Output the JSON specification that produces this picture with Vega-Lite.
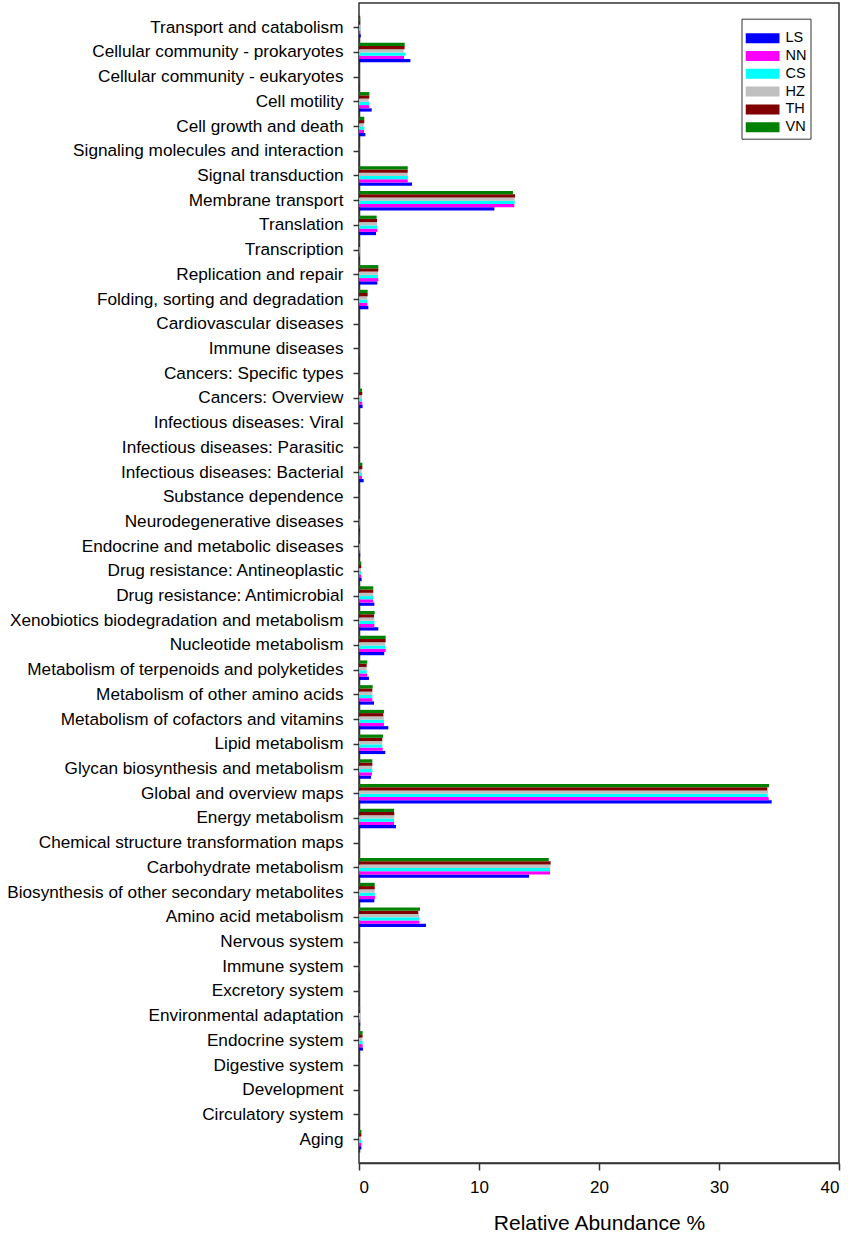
{
  "$schema": "https://vega.github.io/schema/vega-lite/v6.json",
  "autosize": {"type": "none"},
  "padding": {"left": 359, "top": 3, "right": 12, "bottom": 72},
  "width": 480,
  "height": 1160,
  "background": "white",
  "config": {
    "font": "Liberation Sans",
    "view": {"stroke": "#333", "strokeWidth": 1.5},
    "axis": {
      "grid": false,
      "domainColor": "#333",
      "domainWidth": 1.5,
      "tickColor": "#333",
      "tickWidth": 1.5,
      "labelColor": "#000",
      "titleColor": "#000",
      "labelFont": "Liberation Sans",
      "titleFont": "Liberation Sans",
      "titleFontWeight": "normal"
    }
  },
  "data": {
    "values": [
      {"c": "Transport and catabolism", "g": "LS", "v": 0.15}, {"c": "Transport and catabolism", "g": "NN", "v": 0.1}, {"c": "Transport and catabolism", "g": "CS", "v": 0.1}, {"c": "Transport and catabolism", "g": "HZ", "v": 0.08}, {"c": "Transport and catabolism", "g": "TH", "v": 0.1}, {"c": "Transport and catabolism", "g": "VN", "v": 0.1},
      {"c": "Cellular community - prokaryotes", "g": "LS", "v": 4.28}, {"c": "Cellular community - prokaryotes", "g": "NN", "v": 3.75}, {"c": "Cellular community - prokaryotes", "g": "CS", "v": 3.86}, {"c": "Cellular community - prokaryotes", "g": "HZ", "v": 3.72}, {"c": "Cellular community - prokaryotes", "g": "TH", "v": 3.8}, {"c": "Cellular community - prokaryotes", "g": "VN", "v": 3.81},
      {"c": "Cellular community - eukaryotes", "g": "LS", "v": 0.01}, {"c": "Cellular community - eukaryotes", "g": "NN", "v": 0.01}, {"c": "Cellular community - eukaryotes", "g": "CS", "v": 0.01}, {"c": "Cellular community - eukaryotes", "g": "HZ", "v": 0.01}, {"c": "Cellular community - eukaryotes", "g": "TH", "v": 0.01}, {"c": "Cellular community - eukaryotes", "g": "VN", "v": 0.01},
      {"c": "Cell motility", "g": "LS", "v": 1.06}, {"c": "Cell motility", "g": "NN", "v": 0.83}, {"c": "Cell motility", "g": "CS", "v": 0.86}, {"c": "Cell motility", "g": "HZ", "v": 0.8}, {"c": "Cell motility", "g": "TH", "v": 0.86}, {"c": "Cell motility", "g": "VN", "v": 0.86},
      {"c": "Cell growth and death", "g": "LS", "v": 0.53}, {"c": "Cell growth and death", "g": "NN", "v": 0.42}, {"c": "Cell growth and death", "g": "CS", "v": 0.44}, {"c": "Cell growth and death", "g": "HZ", "v": 0.39}, {"c": "Cell growth and death", "g": "TH", "v": 0.44}, {"c": "Cell growth and death", "g": "VN", "v": 0.44},
      {"c": "Signaling molecules and interaction", "g": "LS", "v": 0.01}, {"c": "Signaling molecules and interaction", "g": "NN", "v": 0.01}, {"c": "Signaling molecules and interaction", "g": "CS", "v": 0.01}, {"c": "Signaling molecules and interaction", "g": "HZ", "v": 0.01}, {"c": "Signaling molecules and interaction", "g": "TH", "v": 0.01}, {"c": "Signaling molecules and interaction", "g": "VN", "v": 0.01},
      {"c": "Signal transduction", "g": "LS", "v": 4.42}, {"c": "Signal transduction", "g": "NN", "v": 4.06}, {"c": "Signal transduction", "g": "CS", "v": 4.08}, {"c": "Signal transduction", "g": "HZ", "v": 4.06}, {"c": "Signal transduction", "g": "TH", "v": 4.06}, {"c": "Signal transduction", "g": "VN", "v": 4.06},
      {"c": "Membrane transport", "g": "LS", "v": 11.28}, {"c": "Membrane transport", "g": "NN", "v": 12.94}, {"c": "Membrane transport", "g": "CS", "v": 12.97}, {"c": "Membrane transport", "g": "HZ", "v": 12.97}, {"c": "Membrane transport", "g": "TH", "v": 13.0}, {"c": "Membrane transport", "g": "VN", "v": 12.83},
      {"c": "Translation", "g": "LS", "v": 1.42}, {"c": "Translation", "g": "NN", "v": 1.53}, {"c": "Translation", "g": "CS", "v": 1.5}, {"c": "Translation", "g": "HZ", "v": 1.5}, {"c": "Translation", "g": "TH", "v": 1.5}, {"c": "Translation", "g": "VN", "v": 1.47},
      {"c": "Transcription", "g": "LS", "v": 0.06}, {"c": "Transcription", "g": "NN", "v": 0.06}, {"c": "Transcription", "g": "CS", "v": 0.06}, {"c": "Transcription", "g": "HZ", "v": 0.06}, {"c": "Transcription", "g": "TH", "v": 0.08}, {"c": "Transcription", "g": "VN", "v": 0.06},
      {"c": "Replication and repair", "g": "LS", "v": 1.53}, {"c": "Replication and repair", "g": "NN", "v": 1.61}, {"c": "Replication and repair", "g": "CS", "v": 1.58}, {"c": "Replication and repair", "g": "HZ", "v": 1.58}, {"c": "Replication and repair", "g": "TH", "v": 1.61}, {"c": "Replication and repair", "g": "VN", "v": 1.61},
      {"c": "Folding, sorting and degradation", "g": "LS", "v": 0.78}, {"c": "Folding, sorting and degradation", "g": "NN", "v": 0.69}, {"c": "Folding, sorting and degradation", "g": "CS", "v": 0.69}, {"c": "Folding, sorting and degradation", "g": "HZ", "v": 0.69}, {"c": "Folding, sorting and degradation", "g": "TH", "v": 0.72}, {"c": "Folding, sorting and degradation", "g": "VN", "v": 0.72},
      {"c": "Cardiovascular diseases", "g": "LS", "v": 0.01}, {"c": "Cardiovascular diseases", "g": "NN", "v": 0.01}, {"c": "Cardiovascular diseases", "g": "CS", "v": 0.01}, {"c": "Cardiovascular diseases", "g": "HZ", "v": 0.01}, {"c": "Cardiovascular diseases", "g": "TH", "v": 0.01}, {"c": "Cardiovascular diseases", "g": "VN", "v": 0.01},
      {"c": "Immune diseases", "g": "LS", "v": 0.01}, {"c": "Immune diseases", "g": "NN", "v": 0.01}, {"c": "Immune diseases", "g": "CS", "v": 0.01}, {"c": "Immune diseases", "g": "HZ", "v": 0.01}, {"c": "Immune diseases", "g": "TH", "v": 0.01}, {"c": "Immune diseases", "g": "VN", "v": 0.01},
      {"c": "Cancers: Specific types", "g": "LS", "v": 0.01}, {"c": "Cancers: Specific types", "g": "NN", "v": 0.01}, {"c": "Cancers: Specific types", "g": "CS", "v": 0.01}, {"c": "Cancers: Specific types", "g": "HZ", "v": 0.01}, {"c": "Cancers: Specific types", "g": "TH", "v": 0.01}, {"c": "Cancers: Specific types", "g": "VN", "v": 0.01},
      {"c": "Cancers: Overview", "g": "LS", "v": 0.3}, {"c": "Cancers: Overview", "g": "NN", "v": 0.27}, {"c": "Cancers: Overview", "g": "CS", "v": 0.25}, {"c": "Cancers: Overview", "g": "HZ", "v": 0.25}, {"c": "Cancers: Overview", "g": "TH", "v": 0.27}, {"c": "Cancers: Overview", "g": "VN", "v": 0.25},
      {"c": "Infectious diseases: Viral", "g": "LS", "v": 0.01}, {"c": "Infectious diseases: Viral", "g": "NN", "v": 0.01}, {"c": "Infectious diseases: Viral", "g": "CS", "v": 0.01}, {"c": "Infectious diseases: Viral", "g": "HZ", "v": 0.01}, {"c": "Infectious diseases: Viral", "g": "TH", "v": 0.01}, {"c": "Infectious diseases: Viral", "g": "VN", "v": 0.01},
      {"c": "Infectious diseases: Parasitic", "g": "LS", "v": 0.01}, {"c": "Infectious diseases: Parasitic", "g": "NN", "v": 0.01}, {"c": "Infectious diseases: Parasitic", "g": "CS", "v": 0.01}, {"c": "Infectious diseases: Parasitic", "g": "HZ", "v": 0.01}, {"c": "Infectious diseases: Parasitic", "g": "TH", "v": 0.01}, {"c": "Infectious diseases: Parasitic", "g": "VN", "v": 0.01},
      {"c": "Infectious diseases: Bacterial", "g": "LS", "v": 0.39}, {"c": "Infectious diseases: Bacterial", "g": "NN", "v": 0.25}, {"c": "Infectious diseases: Bacterial", "g": "CS", "v": 0.25}, {"c": "Infectious diseases: Bacterial", "g": "HZ", "v": 0.22}, {"c": "Infectious diseases: Bacterial", "g": "TH", "v": 0.28}, {"c": "Infectious diseases: Bacterial", "g": "VN", "v": 0.28},
      {"c": "Substance dependence", "g": "LS", "v": 0.01}, {"c": "Substance dependence", "g": "NN", "v": 0.01}, {"c": "Substance dependence", "g": "CS", "v": 0.01}, {"c": "Substance dependence", "g": "HZ", "v": 0.01}, {"c": "Substance dependence", "g": "TH", "v": 0.01}, {"c": "Substance dependence", "g": "VN", "v": 0.01},
      {"c": "Neurodegenerative diseases", "g": "LS", "v": 0.08}, {"c": "Neurodegenerative diseases", "g": "NN", "v": 0.04}, {"c": "Neurodegenerative diseases", "g": "CS", "v": 0.04}, {"c": "Neurodegenerative diseases", "g": "HZ", "v": 0.04}, {"c": "Neurodegenerative diseases", "g": "TH", "v": 0.04}, {"c": "Neurodegenerative diseases", "g": "VN", "v": 0.04},
      {"c": "Endocrine and metabolic diseases", "g": "LS", "v": 0.1}, {"c": "Endocrine and metabolic diseases", "g": "NN", "v": 0.07}, {"c": "Endocrine and metabolic diseases", "g": "CS", "v": 0.07}, {"c": "Endocrine and metabolic diseases", "g": "HZ", "v": 0.07}, {"c": "Endocrine and metabolic diseases", "g": "TH", "v": 0.07}, {"c": "Endocrine and metabolic diseases", "g": "VN", "v": 0.07},
      {"c": "Drug resistance: Antineoplastic", "g": "LS", "v": 0.22}, {"c": "Drug resistance: Antineoplastic", "g": "NN", "v": 0.19}, {"c": "Drug resistance: Antineoplastic", "g": "CS", "v": 0.17}, {"c": "Drug resistance: Antineoplastic", "g": "HZ", "v": 0.17}, {"c": "Drug resistance: Antineoplastic", "g": "TH", "v": 0.19}, {"c": "Drug resistance: Antineoplastic", "g": "VN", "v": 0.19},
      {"c": "Drug resistance: Antimicrobial", "g": "LS", "v": 1.28}, {"c": "Drug resistance: Antimicrobial", "g": "NN", "v": 1.17}, {"c": "Drug resistance: Antimicrobial", "g": "CS", "v": 1.19}, {"c": "Drug resistance: Antimicrobial", "g": "HZ", "v": 1.19}, {"c": "Drug resistance: Antimicrobial", "g": "TH", "v": 1.19}, {"c": "Drug resistance: Antimicrobial", "g": "VN", "v": 1.19},
      {"c": "Xenobiotics biodegradation and metabolism", "g": "LS", "v": 1.61}, {"c": "Xenobiotics biodegradation and metabolism", "g": "NN", "v": 1.28}, {"c": "Xenobiotics biodegradation and metabolism", "g": "CS", "v": 1.28}, {"c": "Xenobiotics biodegradation and metabolism", "g": "HZ", "v": 1.28}, {"c": "Xenobiotics biodegradation and metabolism", "g": "TH", "v": 1.25}, {"c": "Xenobiotics biodegradation and metabolism", "g": "VN", "v": 1.31},
      {"c": "Nucleotide metabolism", "g": "LS", "v": 2.1}, {"c": "Nucleotide metabolism", "g": "NN", "v": 2.22}, {"c": "Nucleotide metabolism", "g": "CS", "v": 2.19}, {"c": "Nucleotide metabolism", "g": "HZ", "v": 2.19}, {"c": "Nucleotide metabolism", "g": "TH", "v": 2.22}, {"c": "Nucleotide metabolism", "g": "VN", "v": 2.22},
      {"c": "Metabolism of terpenoids and polyketides", "g": "LS", "v": 0.83}, {"c": "Metabolism of terpenoids and polyketides", "g": "NN", "v": 0.67}, {"c": "Metabolism of terpenoids and polyketides", "g": "CS", "v": 0.64}, {"c": "Metabolism of terpenoids and polyketides", "g": "HZ", "v": 0.64}, {"c": "Metabolism of terpenoids and polyketides", "g": "TH", "v": 0.64}, {"c": "Metabolism of terpenoids and polyketides", "g": "VN", "v": 0.69},
      {"c": "Metabolism of other amino acids", "g": "LS", "v": 1.25}, {"c": "Metabolism of other amino acids", "g": "NN", "v": 1.11}, {"c": "Metabolism of other amino acids", "g": "CS", "v": 1.11}, {"c": "Metabolism of other amino acids", "g": "HZ", "v": 1.11}, {"c": "Metabolism of other amino acids", "g": "TH", "v": 1.11}, {"c": "Metabolism of other amino acids", "g": "VN", "v": 1.14},
      {"c": "Metabolism of cofactors and vitamins", "g": "LS", "v": 2.44}, {"c": "Metabolism of cofactors and vitamins", "g": "NN", "v": 2.08}, {"c": "Metabolism of cofactors and vitamins", "g": "CS", "v": 2.08}, {"c": "Metabolism of cofactors and vitamins", "g": "HZ", "v": 2.06}, {"c": "Metabolism of cofactors and vitamins", "g": "TH", "v": 2.03}, {"c": "Metabolism of cofactors and vitamins", "g": "VN", "v": 2.08},
      {"c": "Lipid metabolism", "g": "LS", "v": 2.19}, {"c": "Lipid metabolism", "g": "NN", "v": 1.97}, {"c": "Lipid metabolism", "g": "CS", "v": 1.94}, {"c": "Lipid metabolism", "g": "HZ", "v": 1.94}, {"c": "Lipid metabolism", "g": "TH", "v": 1.94}, {"c": "Lipid metabolism", "g": "VN", "v": 2.0},
      {"c": "Glycan biosynthesis and metabolism", "g": "LS", "v": 1.0}, {"c": "Glycan biosynthesis and metabolism", "g": "NN", "v": 1.08}, {"c": "Glycan biosynthesis and metabolism", "g": "CS", "v": 1.11}, {"c": "Glycan biosynthesis and metabolism", "g": "HZ", "v": 1.11}, {"c": "Glycan biosynthesis and metabolism", "g": "TH", "v": 1.11}, {"c": "Glycan biosynthesis and metabolism", "g": "VN", "v": 1.11},
      {"c": "Global and overview maps", "g": "LS", "v": 34.39}, {"c": "Global and overview maps", "g": "NN", "v": 34.14}, {"c": "Global and overview maps", "g": "CS", "v": 34.06}, {"c": "Global and overview maps", "g": "HZ", "v": 34.08}, {"c": "Global and overview maps", "g": "TH", "v": 34.03}, {"c": "Global and overview maps", "g": "VN", "v": 34.17},
      {"c": "Energy metabolism", "g": "LS", "v": 3.08}, {"c": "Energy metabolism", "g": "NN", "v": 2.92}, {"c": "Energy metabolism", "g": "CS", "v": 2.92}, {"c": "Energy metabolism", "g": "HZ", "v": 2.94}, {"c": "Energy metabolism", "g": "TH", "v": 2.94}, {"c": "Energy metabolism", "g": "VN", "v": 2.92},
      {"c": "Chemical structure transformation maps", "g": "LS", "v": 0.01}, {"c": "Chemical structure transformation maps", "g": "NN", "v": 0.01}, {"c": "Chemical structure transformation maps", "g": "CS", "v": 0.01}, {"c": "Chemical structure transformation maps", "g": "HZ", "v": 0.01}, {"c": "Chemical structure transformation maps", "g": "TH", "v": 0.01}, {"c": "Chemical structure transformation maps", "g": "VN", "v": 0.01},
      {"c": "Carbohydrate metabolism", "g": "LS", "v": 14.17}, {"c": "Carbohydrate metabolism", "g": "NN", "v": 15.92}, {"c": "Carbohydrate metabolism", "g": "CS", "v": 15.92}, {"c": "Carbohydrate metabolism", "g": "HZ", "v": 15.94}, {"c": "Carbohydrate metabolism", "g": "TH", "v": 15.97}, {"c": "Carbohydrate metabolism", "g": "VN", "v": 15.81},
      {"c": "Biosynthesis of other secondary metabolites", "g": "LS", "v": 1.28}, {"c": "Biosynthesis of other secondary metabolites", "g": "NN", "v": 1.33}, {"c": "Biosynthesis of other secondary metabolites", "g": "CS", "v": 1.31}, {"c": "Biosynthesis of other secondary metabolites", "g": "HZ", "v": 1.31}, {"c": "Biosynthesis of other secondary metabolites", "g": "TH", "v": 1.31}, {"c": "Biosynthesis of other secondary metabolites", "g": "VN", "v": 1.31},
      {"c": "Amino acid metabolism", "g": "LS", "v": 5.58}, {"c": "Amino acid metabolism", "g": "NN", "v": 5.03}, {"c": "Amino acid metabolism", "g": "CS", "v": 5.03}, {"c": "Amino acid metabolism", "g": "HZ", "v": 5.0}, {"c": "Amino acid metabolism", "g": "TH", "v": 4.94}, {"c": "Amino acid metabolism", "g": "VN", "v": 5.08},
      {"c": "Nervous system", "g": "LS", "v": 0.01}, {"c": "Nervous system", "g": "NN", "v": 0.01}, {"c": "Nervous system", "g": "CS", "v": 0.01}, {"c": "Nervous system", "g": "HZ", "v": 0.01}, {"c": "Nervous system", "g": "TH", "v": 0.01}, {"c": "Nervous system", "g": "VN", "v": 0.01},
      {"c": "Immune system", "g": "LS", "v": 0.02}, {"c": "Immune system", "g": "NN", "v": 0.02}, {"c": "Immune system", "g": "CS", "v": 0.02}, {"c": "Immune system", "g": "HZ", "v": 0.02}, {"c": "Immune system", "g": "TH", "v": 0.02}, {"c": "Immune system", "g": "VN", "v": 0.02},
      {"c": "Excretory system", "g": "LS", "v": 0.01}, {"c": "Excretory system", "g": "NN", "v": 0.01}, {"c": "Excretory system", "g": "CS", "v": 0.01}, {"c": "Excretory system", "g": "HZ", "v": 0.01}, {"c": "Excretory system", "g": "TH", "v": 0.01}, {"c": "Excretory system", "g": "VN", "v": 0.01},
      {"c": "Environmental adaptation", "g": "LS", "v": 0.1}, {"c": "Environmental adaptation", "g": "NN", "v": 0.09}, {"c": "Environmental adaptation", "g": "CS", "v": 0.09}, {"c": "Environmental adaptation", "g": "HZ", "v": 0.09}, {"c": "Environmental adaptation", "g": "TH", "v": 0.09}, {"c": "Environmental adaptation", "g": "VN", "v": 0.09},
      {"c": "Endocrine system", "g": "LS", "v": 0.33}, {"c": "Endocrine system", "g": "NN", "v": 0.3}, {"c": "Endocrine system", "g": "CS", "v": 0.3}, {"c": "Endocrine system", "g": "HZ", "v": 0.28}, {"c": "Endocrine system", "g": "TH", "v": 0.3}, {"c": "Endocrine system", "g": "VN", "v": 0.3},
      {"c": "Digestive system", "g": "LS", "v": 0.01}, {"c": "Digestive system", "g": "NN", "v": 0.01}, {"c": "Digestive system", "g": "CS", "v": 0.01}, {"c": "Digestive system", "g": "HZ", "v": 0.01}, {"c": "Digestive system", "g": "TH", "v": 0.01}, {"c": "Digestive system", "g": "VN", "v": 0.01},
      {"c": "Development", "g": "LS", "v": 0.01}, {"c": "Development", "g": "NN", "v": 0.01}, {"c": "Development", "g": "CS", "v": 0.01}, {"c": "Development", "g": "HZ", "v": 0.01}, {"c": "Development", "g": "TH", "v": 0.01}, {"c": "Development", "g": "VN", "v": 0.01},
      {"c": "Circulatory system", "g": "LS", "v": 0.01}, {"c": "Circulatory system", "g": "NN", "v": 0.01}, {"c": "Circulatory system", "g": "CS", "v": 0.01}, {"c": "Circulatory system", "g": "HZ", "v": 0.01}, {"c": "Circulatory system", "g": "TH", "v": 0.01}, {"c": "Circulatory system", "g": "VN", "v": 0.01},
      {"c": "Aging", "g": "LS", "v": 0.2}, {"c": "Aging", "g": "NN", "v": 0.2}, {"c": "Aging", "g": "CS", "v": 0.2}, {"c": "Aging", "g": "HZ", "v": 0.18}, {"c": "Aging", "g": "TH", "v": 0.2}, {"c": "Aging", "g": "VN", "v": 0.2}
    ]
  },
  "mark": {"type": "bar", "orient": "horizontal"},
  "encoding": {
    "y": {
      "field": "c",
      "type": "nominal",
      "sort": null,
      "scale": {"range": [12.35, 1149.05], "paddingInner": 0.21, "paddingOuter": 0.105},
      "axis": {"title": null, "labelFontSize": 17.2, "tickSize": 6, "labelPadding": 10, "labelLimit": 400}
    },
    "yOffset": {
      "field": "g",
      "type": "nominal",
      "sort": ["VN", "TH", "HZ", "CS", "NN", "LS"]
    },
    "x": {
      "field": "v",
      "type": "quantitative",
      "scale": {"domain": [0, 40], "nice": false},
      "axis": {
        "title": "Relative Abundance %",
        "values": [0, 10, 20, 30, 40],
        "labelFontSize": 17,
        "tickSize": 7,
        "labelPadding": 9,
        "titleFontSize": 21,
        "titlePadding": 17
      }
    },
    "color": {
      "field": "g",
      "type": "nominal",
      "scale": {
        "domain": ["LS", "NN", "CS", "HZ", "TH", "VN"],
        "range": ["#0000ff", "#ff00ff", "#00ffff", "#c0c0c0", "#800000", "#008000"]
      },
      "legend": {
        "orient": "none",
        "legendX": 382.5,
        "legendY": 15.7,
        "title": " ",
        "titleFontSize": 5,
        "titlePadding": 3,
        "padding": 4,
        "strokeColor": "#333",
        "fillColor": "white",
        "symbolType": "M-1,-0.294H1V0.294H-1Z",
        "symbolSize": 1156,
        "symbolStrokeWidth": 0,
        "symbolOpacity": 1,
        "labelFontSize": 14.5,
        "labelColor": "#000",
        "labelOffset": 6,
        "labelExpr": "datum.label + '\u00a0\u00a0\u00a0'",
        "clipHeight": 15,
        "rowPadding": 1.8
      }
    }
  }
}
